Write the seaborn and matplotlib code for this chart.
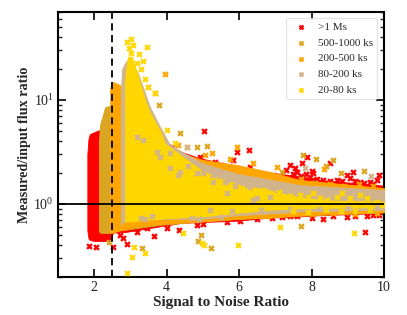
import matplotlib
matplotlib.use("Agg")
import matplotlib.pyplot as plt
from matplotlib.ticker import LogLocator, NullFormatter, MultipleLocator
import pandas as pd
import seaborn as sns

sns.set_style("ticks")
plt.rcParams['font.family'] = ['Liberation Serif', 'DejaVu Serif']
plt.rcParams['mathtext.fontset'] = 'stix'

labels = ['>1 Ms', '500-1000 ks', '200-500 ks', '80-200 ks', '20-80 ks']
colors = ['red', 'goldenrod', 'orange', 'tan', 'gold']

# Envelopes of the densely filled clouds
red_snr = [1.81, 1.84, 1.88, 2.02, 2.16, 2.44, 2.52, 2.90, 3.82, 4.09, 4.37, 4.92, 5.94, 6.85, 7.68, 8.23, 10]
red_hi = [3.0, 4.2, 4.7, 4.93, 5.15, 5.15, 5.15, 5.15, 3.9, 3.5, 3.2, 2.75, 2.3, 2.0, 1.85, 1.7, 1.5]
red_lo = [0.56, 0.47, 0.45, 0.44, 0.44, 0.44, 0.53, 0.54, 0.61, 0.63, 0.657, 0.67, 0.69, 0.74, 0.76, 0.78, 0.82]

gold_rod_snr = [2.13, 2.16, 2.24, 2.30, 2.44, 2.60, 3.82, 5.0, 6.0, 8.0, 10]
gold_rod_hi = [4.0, 5.75, 7.17, 8.5, 8.8, 7.0, 3.8, 2.5, 2.1, 1.6, 1.35]
gold_rod_lo = [0.55, 0.53, 0.526, 0.526, 0.526, 0.55, 0.63, 0.68, 0.72, 0.78, 0.83]

orange_snr = [2.44, 2.52, 2.71, 3.21, 3.54, 3.82, 4.09, 5.0, 5.94, 6.85, 7.68, 10]
orange_hi = [13.0, 14.9, 13.9, 9.0, 5.5, 4.0, 3.3, 2.65, 2.37, 2.03, 1.7, 1.42]
orange_lo = [0.53, 0.53, 0.56, 0.61, 0.63, 0.64, 0.66, 0.68, 0.72, 0.74, 0.78, 0.84]

tan_snr = [2.74, 2.77, 2.90, 3.04, 3.21, 3.54, 3.82, 4.09, 5.0, 5.94, 7.13, 7.68, 10]
tan_hi = [13.0, 20.0, 24.0, 23.0, 18.0, 8.5, 5.5, 3.7, 2.45, 1.95, 1.65, 1.52, 1.36]
tan_lo = [0.62, 0.66, 0.68, 0.70, 0.70, 0.71, 0.72, 0.72, 0.72, 0.78, 0.82, 0.85, 0.88]

gold_snr = [2.85, 2.93, 3.04, 3.21, 3.40, 3.54, 3.82, 3.95, 4.37, 5.0, 5.94, 6.85, 7.68, 8.5, 10]
gold_hi = [15.0, 26.0, 26.0, 17.0, 10.0, 7.5, 5.0, 3.8, 2.96, 2.05, 1.55, 1.35, 1.15, 1.08, 1.05]
gold_lo = [0.68, 0.68, 0.68, 0.69, 0.70, 0.71, 0.72, 0.73, 0.74, 0.76, 0.82, 0.88, 0.91, 0.92, 0.93]

# Individually visible points
red_x = [1.86, 2.05, 2.52, 2.71, 2.79, 2.90, 3.65, 4.34, 5.03, 5.94, 6.27, 7.41, 7.54, 7.74, 7.87, 8.01, 8.04, 8.51, 9.15, 8.98, 9.86, 9.48,
         4.15, 4.45, 4.92, 5.33, 5.64, 5.94, 6.30, 6.58, 6.94, 5.83, 7.60, 7.96, 8.32, 8.70, 9.06, 9.61, 9.89, 9.34,
         7.18, 7.41, 8.32, 8.98, 9.53, 9.86, 3.18, 3.46, 4.01, 4.84, 5.00, 5.67, 6.02,
         7.30, 7.50, 7.70, 7.85, 8.00, 8.15, 8.50, 8.85, 9.20, 9.45, 9.70, 9.80, 6.70, 6.10, 5.50,
         6.50, 6.90, 7.60, 8.00, 8.60, 9.20, 9.70]
red_y = [0.395, 0.386, 0.386, 0.503, 0.471, 0.412, 0.492, 0.562, 5.03, 3.16, 3.31, 2.37, 2.22, 2.48, 2.83, 2.08, 1.99, 2.48, 2.03, 1.90, 1.90, 0.538,
         3.53, 2.65, 2.83, 2.54, 2.22, 1.99, 2.27, 1.78, 1.90, 2.65, 2.03, 1.82, 1.70, 1.70, 1.78, 1.63, 1.36, 1.63,
         0.75, 0.77, 0.72, 0.75, 0.77, 0.78, 0.54, 0.59, 0.59, 0.63, 0.64, 0.67, 0.69,
         2.10, 1.95, 1.85, 1.95, 1.70, 1.75, 1.65, 1.65, 1.68, 1.60, 1.55, 1.70, 1.95, 2.05, 2.35,
         0.72, 0.74, 0.76, 0.74, 0.76, 0.77, 0.78]

rod_x = [2.41, 3.32, 3.79, 4.95, 4.87, 5.22, 4.37, 5.11, 7.71, 7.76, 8.12, 8.40, 8.59, 8.81, 9.45, 7.18, 3.60, 4.84]
rod_y = [0.431, 0.377, 8.96, 0.503, 0.441, 0.377, 4.81, 3.61, 0.614, 2.96, 2.71, 2.32, 2.65, 1.99, 2.08, 2.03, 6.28, 3.53]

orange_x = [3.95, 5.94, 8.34, 3.68, 4.31, 4.56, 5.25, 6.38, 7.05, 5.06, 5.75,
            7.30, 7.70, 8.10, 8.50, 8.90, 9.30, 9.70, 6.80, 7.40, 8.00, 8.60, 9.20, 9.80]
orange_y = [17.8, 3.53, 2.17, 11.7, 3.70, 3.53, 3.09, 2.48, 2.27, 2.96, 2.71,
            1.75, 1.72, 1.60, 1.55, 1.50, 1.55, 1.50, 0.76, 0.80, 0.80, 0.82, 0.80, 0.82]

tan_x = [3.48, 7.82, 9.64, 4.56]
tan_y = [13.3, 2.22, 1.86, 3.53]

gold_x = [3.02, 2.90, 3.07, 2.96, 3.46, 3.02, 3.24, 3.35, 3.18, 3.29, 3.40, 3.48, 3.68, 4.01, 4.23,
          3.04, 3.10, 3.40, 2.90, 4.45, 4.98, 5.97, 7.13, 9.17, 5.03]
gold_y = [38.6, 36.1, 33.8, 31.6, 32.3, 28.3, 27.7, 23.7, 22.7, 19.9, 15.9, 13.3, 11.7, 5.15, 3.86,
          0.309, 0.386, 0.338, 0.217, 0.526, 0.422, 0.403, 0.601, 0.526, 0.403]

# Patches where one series shows through another
tan_patch_x = [4.09, 4.37, 4.84, 5.28, 5.28, 5.61, 5.67, 5.75, 5.94, 6.22, 6.30, 6.38, 6.49, 6.85, 7.05, 5.67,
               3.18, 3.35, 3.73, 4.09, 3.82, 3.30, 3.40, 3.60, 4.70, 4.90, 5.50,
               5.20, 5.80, 6.60, 7.40, 8.20, 9.00, 9.80,
               4.60, 5.00, 5.45, 5.90, 6.10, 6.50, 6.70, 4.30]
tan_patch_y = [2.22, 2.03, 1.99, 1.90, 1.63, 1.63, 1.70, 1.78, 1.70, 1.52, 1.46, 1.09, 1.14, 1.17, 1.36, 1.28,
               4.41, 4.13, 3.16, 3.09, 2.83, 0.74, 0.72, 0.76, 0.73, 0.72, 0.75,
               0.88, 0.86, 0.87, 0.90, 0.90, 0.92, 0.93,
               2.30, 2.00, 1.85, 1.50, 1.60, 1.55, 1.45, 1.90]
gold_patch_x = [7.68, 7.90, 8.05, 8.23, 8.43, 8.70, 8.84, 9.06, 9.34, 9.53, 9.81, 7.10, 7.40, 6.70,
                7.50, 7.90, 8.40, 8.80, 9.20, 9.60]
gold_patch_y = [1.22, 1.17, 1.28, 1.14, 1.09, 1.17, 1.28, 1.14, 1.22, 1.14, 1.04, 1.30, 1.20, 1.36,
                0.85, 0.84, 0.88, 0.85, 0.86, 0.87]

envelopes = [(red_snr, red_hi, red_lo), (gold_rod_snr, gold_rod_hi, gold_rod_lo),
             (orange_snr, orange_hi, orange_lo), (tan_snr, tan_hi, tan_lo), (gold_snr, gold_hi, gold_lo)]
points = [(red_x, red_y), (rod_x, rod_y), (orange_x, orange_y), (tan_x, tan_y), (gold_x, gold_y)]

fig = plt.figure(figsize=(4.07, 3.15), dpi=100)
ax = fig.add_axes([58/407, 1-277/315, (384-58)/407, (277-12)/315])

mk = dict(marker='x', s=12, linewidth=1.7)
for i, (lab, col, env, pts) in enumerate(zip(labels, colors, envelopes, points)):
    ax.fill_between(env[0], env[2], env[1], color=col, linewidth=0.6, zorder=2+i)
    df = pd.DataFrame({'snr': pts[0], 'ratio': pts[1]})
    sns.scatterplot(data=df, x='snr', y='ratio', color=col, label=lab, ax=ax, zorder=2+i, **mk)

sns.scatterplot(x=tan_patch_x, y=tan_patch_y, color='tan', ax=ax, zorder=8, legend=False, **mk)
sns.scatterplot(x=gold_patch_x, y=gold_patch_y, color='gold', ax=ax, zorder=8, legend=False, **mk)

ax.axhline(1, color='black', lw=1.3, zorder=10)
ax.axvline(2.5, color='black', lw=1.3, ls=(0, (4, 2.5)), zorder=10)

ax.set_yscale('log')
ax.set_xlim(1, 10)
ax.set_ylim(0.1986, 70)
ax.xaxis.set_major_locator(MultipleLocator(2))
ax.yaxis.set_major_locator(LogLocator(base=10, numticks=5))
ax.yaxis.set_minor_locator(LogLocator(base=10, subs=range(2, 10), numticks=5))
ax.yaxis.set_minor_formatter(NullFormatter())
ax.tick_params(which='major', direction='in', top=True, right=True, length=6, width=1.2,
               labelsize=10, colors='black', labelcolor='#222222', pad=3)
ax.tick_params(which='minor', direction='in', top=False, right=True, length=3, width=1.0)
for s in ax.spines.values():
    s.set_linewidth(1.5)
    s.set_color('black')
ax.set_xlabel('Signal to Noise Ratio', fontsize=11, fontweight='bold', labelpad=1)
ax.set_ylabel('Measured/input flux ratio', fontsize=10.2, fontweight='bold', labelpad=2)

leg = ax.legend(loc='upper right', fontsize=8, frameon=True, bbox_to_anchor=(0.98, 0.977),
                borderaxespad=0, handletextpad=0.6, handlelength=1.9, labelspacing=0.52,
                borderpad=0.4, markerscale=0.8)
leg.get_frame().set_edgecolor('#dddddd')
leg.get_frame().set_linewidth(0.8)
leg.set_zorder(20)

fig.savefig('out.png', dpi=100)
